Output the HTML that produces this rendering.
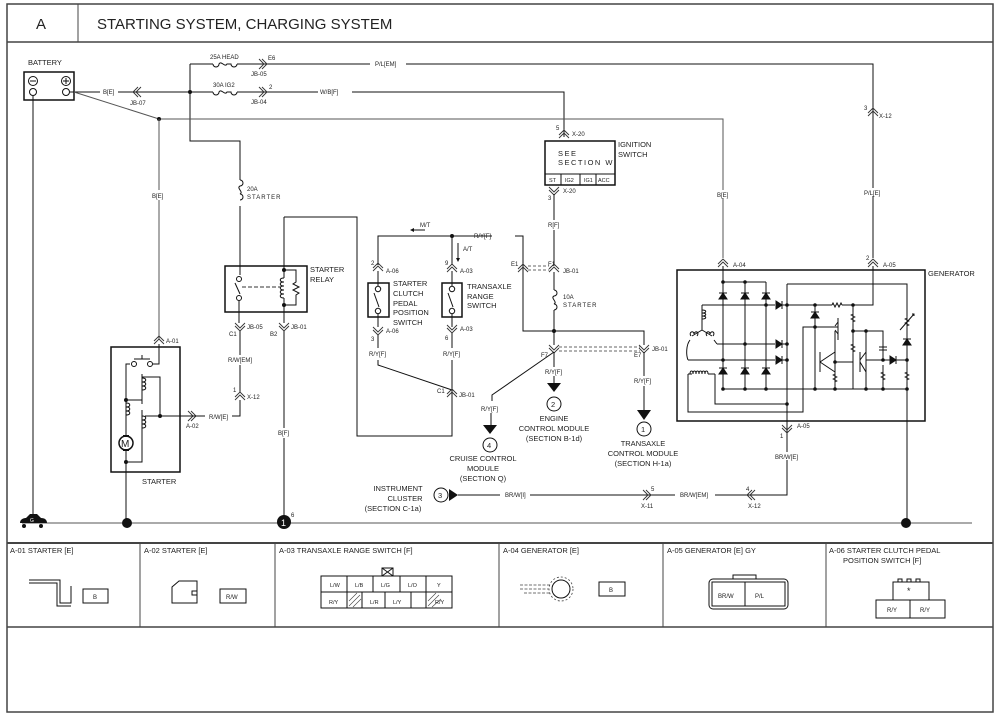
<!DOCTYPE html>
<html><head><meta charset="utf-8"><style>
html,body{margin:0;padding:0;background:#fff;}
svg{display:block;font-family:"Liberation Sans",sans-serif;}
text{fill:#222;}
.s{font-size:6px;}
.m{font-size:7.5px;}
.w{stroke:#555;stroke-width:1;fill:none;}
.k{stroke:#111;stroke-width:1;fill:none;}
.b{stroke:#111;stroke-width:2;fill:none;}
</style></head><body>
<svg width="1000" height="717" viewBox="0 0 1000 717" xmlns="http://www.w3.org/2000/svg">
<defs>
<g id="cu"><path d="M-5,4 L0,-1 L5,4 M-5,1 L0,-4 L5,1" stroke="#333" stroke-width="0.9" fill="none"/></g>
<g id="cd"><path d="M-5,-4 L0,1 L5,-4 M-5,-1 L0,4 L5,-1" stroke="#333" stroke-width="0.9" fill="none"/></g>
<g id="cr"><path d="M-4,-5 L1,0 L-4,5 M-1,-5 L4,0 L-1,5" stroke="#333" stroke-width="0.9" fill="none"/></g>
<g id="cl"><path d="M4,-5 L-1,0 L4,5 M1,-5 L-4,0 L1,5" stroke="#333" stroke-width="0.9" fill="none"/></g>
<g id="du"><path d="M-4,3 L4,3 L0,-3 Z M-4,-3 L4,-3" stroke="#111" fill="#111" stroke-width="1"/></g>
<g id="dr"><path d="M-3,-4 L-3,4 L3,0 Z M3,-4 L3,4" stroke="#111" fill="#111" stroke-width="1"/></g>
<g id="rv"><path d="M0,-6 L0,-4 L-2,-3 L2,-1 L-2,1 L2,3 L0,4 L0,6" stroke="#222" fill="none" stroke-width="0.8"/></g>
</defs>

<!-- frame -->
<rect x="7" y="4" width="986" height="708" fill="none" stroke="#444" stroke-width="1.5"/>
<line x1="7" y1="42" x2="993" y2="42" stroke="#444" stroke-width="1.5"/>
<line x1="78" y1="4" x2="78" y2="42" stroke="#444" stroke-width="1"/>
<text x="36" y="29" style="font-size:15px">A</text>
<text x="97" y="29" style="font-size:15px">STARTING SYSTEM, CHARGING SYSTEM</text>

<!-- battery -->
<text x="28" y="65" class="m">BATTERY</text>
<rect x="24" y="72" width="50" height="28" fill="none" stroke="#111" stroke-width="1.5"/>
<circle cx="33" cy="81" r="4.5" class="k"/><line x1="30" y1="81" x2="36" y2="81" class="k"/>
<circle cx="66" cy="81" r="4.5" class="k"/><line x1="63" y1="81" x2="69" y2="81" class="k"/><line x1="66" y1="78" x2="66" y2="84" class="k"/>
<circle cx="33" cy="92" r="3.5" class="k"/><circle cx="66" cy="92" r="3.5" class="k"/>
<line x1="33" y1="96" x2="33" y2="523" class="k"/>

<!-- battery + to junction -->
<path d="M70,92 H100 M118,92 H190" class="k"/>
<text x="103" y="94" class="s">B[E]</text>
<use href="#cl" x="137" y="92"/>
<text x="130" y="105" class="s">JB-07</text>
<circle cx="190" cy="92" r="2" fill="#111"/>
<path d="M190,64 V141 H240 V180" class="k"/>
<!-- 25A HEAD line -->
<path d="M190,64 H213 M237,64 H370 M406,64 H873 V258" class="k"/>
<path d="M213,64 a3,3 0 1 0 6,0 c2,-4 6,4 8,0 c2,0 4,0 4,0 a3,3 0 1 0 6,0" class="k"/>
<text x="210" y="59" class="s">25A HEAD</text>
<use href="#cr" x="263" y="64"/><text x="268" y="60" class="s">E6</text><text x="251" y="76" class="s">JB-05</text>
<text x="375" y="66" class="s">P/L[EM]</text>
<!-- 30A IG2 -->
<path d="M190,92 H213 M237,92 H318 M352,92 H564 V137" class="k"/>
<path d="M213,92 a3,3 0 1 0 6,0 c2,-4 6,4 8,0 c2,0 4,0 4,0 a3,3 0 1 0 6,0" class="k"/>
<text x="213" y="87" class="s">30A IG2</text>
<use href="#cr" x="263" y="92"/><text x="269" y="89" class="s">2</text><text x="251" y="104" class="s">JB-04</text>
<text x="320" y="94" class="s">W/B[F]</text>
<!-- diagonal -->
<path d="M74,92 L159,119 H723 V258" class="w"/>
<circle cx="159" cy="119" r="2" fill="#111"/>
<path d="M159,119 V190 M159,200 V340" class="w"/>
<text x="152" y="198" class="s">B[E]</text>
<use href="#cu" x="159" y="340"/><text x="166" y="343" class="s">A-01</text>

<!-- X-12 P/L -->
<use href="#cu" x="873" y="112"/><text x="864" y="110" class="s">3</text><text x="879" y="118" class="s">X-12</text>
<rect x="862" y="188" width="22" height="8" fill="#fff"/><text x="864" y="195" class="s">P/L[E]</text>
<rect x="712" y="190" width="22" height="8" fill="#fff"/><text x="717" y="197" class="s">B[E]</text>
<use href="#cu" x="723" y="263"/><text x="733" y="267" class="s">A-04</text>
<use href="#cu" x="873" y="263"/><text x="866" y="260" class="s">2</text><text x="883" y="267" class="s">A-05</text>

<!-- ignition switch -->
<use href="#cu" x="564" y="134"/><text x="556" y="130" class="s">5</text><text x="572" y="136" class="s">X-20</text>
<rect x="545" y="141" width="70" height="44" fill="none" stroke="#111" stroke-width="1.5"/>
<line x1="545" y1="174" x2="615" y2="174" class="k"/>
<line x1="561" y1="174" x2="561" y2="185" class="k"/><line x1="580" y1="174" x2="580" y2="185" class="k"/><line x1="596" y1="174" x2="596" y2="185" class="k"/>
<text x="558" y="156" class="m" style="letter-spacing:1.5px">SEE</text>
<text x="558" y="165" class="m" style="letter-spacing:1.5px">SECTION W</text>
<text x="549" y="182" style="font-size:5.5px">ST</text><text x="565" y="182" style="font-size:5.5px">IG2</text><text x="584" y="182" style="font-size:5.5px">IG1</text><text x="598" y="182" style="font-size:5.5px">ACC</text>
<text x="618" y="147" class="m">IGNITION</text><text x="618" y="157" class="m">SWITCH</text>
<use href="#cd" x="554" y="191"/><text x="548" y="200" class="s">3</text><text x="563" y="193" class="s">X-20</text>
<path d="M554,194 V220 M554,230 V264" class="k"/>
<text x="548" y="227" class="s">R[F]</text>
<use href="#cu" x="554" y="268"/><text x="548" y="266" class="s">F1</text><text x="563" y="273" class="s">JB-01</text>
<path d="M554,272 V290 M554,310 V345" class="k"/>
<path d="M554,290 a3,3 0 1 1 0,6 c-4,2 4,6 0,8 a3,3 0 1 1 0,6" class="k"/>
<text x="563" y="299" class="s">10A</text><text x="563" y="307" class="s" style="letter-spacing:1px">STARTER</text>
<circle cx="554" cy="331" r="2" fill="#111"/>
<path d="M378,265 V236 H492 M515,236 H523 V331 H644 V345" class="k"/>
<text x="474" y="238" class="s">R/Y[F]</text>
<circle cx="452" cy="236" r="2" fill="#111"/>
<use href="#cu" x="523" y="268"/><text x="511" y="266" class="s">E1</text>
<path d="M528,266 H549 M528,270 H549" stroke="#666" stroke-width="0.9" stroke-dasharray="3,2"/>
<path d="M425,230 H413" class="k"/><path d="M410,230 L414,228 L414,232 Z" fill="#111"/><text x="420" y="227" class="s">M/T</text>
<path d="M458,243 V258" class="k"/><path d="M458,262 L456,258 L460,258 Z" fill="#111"/><text x="463" y="251" class="s">A/T</text>

<!-- clutch switch -->
<use href="#cu" x="378" y="267"/><text x="371" y="265" class="s">2</text><text x="386" y="273" class="s">A-06</text>
<rect x="368" y="283" width="21" height="34" fill="none" stroke="#111" stroke-width="1.5"/>
<path d="M378,271 V286 M378,314 V327" class="k"/>
<circle cx="378" cy="289" r="2.7" class="k"/><circle cx="378" cy="311" r="2.7" class="k"/>
<line x1="374" y1="293" x2="379" y2="307" class="k"/>
<text x="393" y="286" class="m">STARTER</text><text x="393" y="296" class="m">CLUTCH</text><text x="393" y="306" class="m">PEDAL</text><text x="393" y="315" class="m">POSITION</text><text x="393" y="325" class="m">SWITCH</text>
<use href="#cd" x="378" y="331"/><text x="371" y="341" class="s">3</text><text x="386" y="333" class="s">A-06</text>
<path d="M378,335 V348 M378,360 V365 L452,390" class="k"/>
<text x="369" y="356" class="s">R/Y[F]</text>
<!-- transaxle switch -->
<path d="M452,236 V265" class="k"/>
<use href="#cu" x="452" y="268"/><text x="445" y="265" class="s">9</text><text x="460" y="273" class="s">A-03</text>
<rect x="442" y="283" width="20" height="34" fill="none" stroke="#111" stroke-width="1.5"/>
<path d="M452,271 V286 M452,314 V327" class="k"/>
<circle cx="452" cy="289" r="2.7" class="k"/><circle cx="452" cy="311" r="2.7" class="k"/>
<line x1="448" y1="293" x2="453" y2="307" class="k"/>
<text x="467" y="289" class="m">TRANSAXLE</text><text x="467" y="299" class="m">RANGE</text><text x="467" y="308" class="m">SWITCH</text>
<use href="#cd" x="452" y="329"/><text x="445" y="340" class="s">6</text><text x="460" y="331" class="s">A-03</text>
<path d="M452,333 V348 M452,360 V436 H357 V217 H284" class="k"/>
<text x="443" y="356" class="s">R/Y[F]</text>
<use href="#cu" x="452" y="393"/><text x="437" y="393" class="s">C1</text><text x="459" y="397" class="s">JB-01</text>

<!-- F7/E7 -->
<use href="#cd" x="554" y="349"/><text x="541" y="357" class="s">F7</text>
<path d="M559,347 H640 M559,351 H640" stroke="#666" stroke-width="0.9" stroke-dasharray="3,2"/>
<use href="#cd" x="644" y="349"/><text x="634" y="357" class="s">E7</text><text x="652" y="351" class="s">JB-01</text>
<path d="M554,352 V367 M554,376 V383" class="k"/>
<text x="545" y="374" class="s">R/Y[F]</text>
<path d="M547,383 L561,383 L554,392 Z" fill="#111"/>
<circle cx="554" cy="404" r="7" class="k"/><text x="551" y="407" class="m">2</text>
<text x="554" y="421" class="m" text-anchor="middle">ENGINE</text>
<text x="554" y="431" class="m" text-anchor="middle">CONTROL MODULE</text>
<text x="554" y="441" class="m" text-anchor="middle">(SECTION B-1d)</text>
<path d="M644,352 V376 M644,386 V410" class="k"/>
<text x="634" y="383" class="s">R/Y[F]</text>
<path d="M637,410 L651,410 L644,420 Z" fill="#111"/>
<circle cx="644" cy="429" r="7" class="k"/><text x="641" y="432" class="m">1</text>
<text x="643" y="446" class="m" text-anchor="middle">TRANSAXLE</text>
<text x="643" y="456" class="m" text-anchor="middle">CONTROL MODULE</text>
<text x="643" y="466" class="m" text-anchor="middle">(SECTION H-1a)</text>
<path d="M554,352 L492,395 V401 M491,413 V425" class="k"/>
<text x="481" y="411" class="s">R/Y[F]</text>
<path d="M483,425 L497,425 L490,434 Z" fill="#111"/>
<circle cx="490" cy="445" r="7" class="k"/><text x="487" y="448" class="m">4</text>
<text x="483" y="461" class="m" text-anchor="middle">CRUISE CONTROL</text>
<text x="483" y="471" class="m" text-anchor="middle">MODULE</text>
<text x="483" y="481" class="m" text-anchor="middle">(SECTION Q)</text>

<!-- 20A starter fuse & relay -->
<path d="M240,180 a3,3 0 1 1 0,6 c-4,2 4,6 0,8 a3,3 0 1 1 0,6 M240,206 V275" class="k"/>
<text x="247" y="191" class="s">20A</text><text x="247" y="199" class="s" style="letter-spacing:1px">STARTER</text>
<rect x="225" y="266" width="82" height="46" fill="none" stroke="#111" stroke-width="1.5"/>
<text x="310" y="272" class="m">STARTER</text><text x="310" y="282" class="m">RELAY</text>
<circle cx="239" cy="279" r="2.5" class="k"/><circle cx="239" cy="298" r="2.5" class="k"/>
<line x1="235" y1="283" x2="240" y2="294" class="k"/>
<line x1="242" y1="287" x2="280" y2="287" stroke="#333" stroke-dasharray="4,2"/>
<path d="M284,217 V278 M284,298 V323" class="k"/>
<circle cx="284" cy="270" r="2" fill="#111"/><circle cx="284" cy="305" r="2" fill="#111"/>
<path d="M284,278 c-5,0 -5,4 0,4 c-5,0 -5,4 0,4 c-5,0 -5,4 0,4 c-5,0 -5,4 0,4 c-5,0 -5,4 0,4" class="k"/>
<path d="M284,270 H296 V282 l-3,2 l6,3 l-6,3 l6,3 l-3,2 V305 H284" class="k"/>
<path d="M239,301 V323" class="k"/>
<use href="#cd" x="240" y="327"/><text x="229" y="336" class="s">C1</text><text x="247" y="329" class="s">JB-05</text>
<use href="#cd" x="284" y="327"/><text x="270" y="336" class="s">B2</text><text x="291" y="329" class="s">JB-01</text>
<path d="M240,331 V355 M240,365 V392 M240,400 V416 H232" class="k"/>
<text x="228" y="362" class="s">R/W[EM]</text>
<use href="#cu" x="240" y="396"/><text x="233" y="392" class="s">1</text><text x="247" y="399" class="s">X-12</text>
<text x="209" y="419" class="s">R/W[E]</text>
<path d="M284,331 V428 M284,438 V516" class="k"/>
<text x="278" y="435" class="s">B[F]</text>

<!-- starter -->
<rect x="111" y="347" width="69" height="125" fill="none" stroke="#111" stroke-width="1.5"/>
<text x="142" y="484" class="m">STARTER</text>
<use href="#cr" x="192" y="416"/><text x="186" y="428" class="s">A-02</text>
<path d="M145,416 H205" class="k"/><circle cx="160" cy="416" r="2" fill="#111"/>
<path d="M159,344 V364 H153 M130,364 H126 V443 M126,451 V523" class="k"/>
<circle cx="134" cy="364" r="2.5" class="k"/><circle cx="150" cy="364" r="2.5" class="k"/><path d="M134,359 H150 M142,359 V355" class="k"/>
<circle cx="126" cy="400" r="2" fill="#111"/><circle cx="126" cy="462" r="2" fill="#111"/>
<path d="M126,400 H142 M126,462 H142 V429" class="k"/>
<path d="M142,374 V404 M142,410 V429 M142,377 H160 V416" class="k"/>
<path d="M142,378 c5,0 5,4 0,4 c5,0 5,4 0,4 c5,0 5,4 0,4 M142,416 c5,0 5,4 0,4 c5,0 5,4 0,4 c5,0 5,4 0,4 M126,403 c5,0 5,4 0,4 c5,0 5,4 0,4 c5,0 5,4 0,4" class="k"/>
<circle cx="126" cy="443" r="7" fill="#fff" stroke="#111" stroke-width="1.5"/><text x="121" y="447" style="font-size:10px">M</text>
<rect x="123" y="435" width="6" height="2" fill="#111"/><rect x="123" y="449" width="6" height="2" fill="#111"/>

<!-- ground line -->
<line x1="22" y1="523" x2="972" y2="523" class="w"/>
<path d="M20,523 c0,-4 4,-5 6,-5 l4,-4 h7 l4,4 c4,0 6,2 6,5 z" fill="#111"/>
<circle cx="24" cy="526" r="2" fill="#111"/><circle cx="41" cy="526" r="2" fill="#111"/>
<text x="30" y="522" style="font-size:5px;fill:#fff">G</text>
<circle cx="127" cy="523" r="5" fill="#111"/>
<circle cx="284" cy="522" r="7" fill="#111"/><text x="281" y="526" style="font-size:9px;fill:#fff">1</text><text x="291" y="517" class="s">6</text>
<circle cx="906" cy="523" r="5" fill="#111"/>

<!-- instrument cluster -->
<text x="398" y="491" class="m" text-anchor="middle">INSTRUMENT</text>
<text x="405" y="501" class="m" text-anchor="middle">CLUSTER</text>
<text x="393" y="511" class="m" text-anchor="middle">(SECTION C-1a)</text>
<circle cx="441" cy="495" r="7" class="k"/><text x="438" y="498" class="m">3</text>
<path d="M449,489 L458,495 L449,501 Z" fill="#111"/>
<path d="M458,495 H500 M530,495 H675 M715,495 H787 V413" class="k"/>
<text x="505" y="497" class="s">BR/W[I]</text>
<text x="680" y="497" class="s">BR/W[EM]</text>
<use href="#cr" x="647" y="495"/><text x="651" y="491" class="s">5</text><text x="641" y="508" class="s">X-11</text>
<use href="#cl" x="751" y="495"/><text x="746" y="491" class="s">4</text><text x="748" y="508" class="s">X-12</text>
<rect x="774" y="452" width="26" height="8" fill="#fff"/><text x="775" y="459" class="s">BR/W[E]</text>
<use href="#cd" x="787" y="429"/><text x="780" y="438" class="s">1</text><text x="797" y="428" class="s">A-05</text>

<!-- generator -->
<rect x="677" y="270" width="248" height="151" fill="none" stroke="#111" stroke-width="1.5"/>
<text x="928" y="276" class="m">GENERATOR</text>
<g class="k">
<path d="M723,266 V389 M745,282 V389 M766,282 V389 M723,282 H766"/>
<path d="M702,305 H775 M782,305 H832 M842,305 H873 V266"/>
<path d="M832,305 l1,-2 l2,4 l2,-4 l2,4 l2,-4 l1,2"/>
<path d="M717,344 H775 M782,344 H787 M688,360 H775 M782,360 H787"/>
<path d="M787,284 H907 V389 M787,284 V418"/>
<path d="M723,389 H907"/>
<path d="M702,305 V330 L692,336 M702,330 L712,336 M690,340 C686,345 686,355 688,360 M714,340 L717,344"/>
<path d="M702,310 c5,0 5,3 0,3 c5,0 5,3 0,3 c5,0 5,3 0,3"/>
<path d="M691,336 c-3,-4 3,-6 3,-2 c1,-4 6,-2 3,2 M707,336 c-3,-4 3,-6 3,-2 c1,-4 6,-2 3,2"/>
<path d="M688,374 V412 H803 V327 H838 M715,374 V404 H787"/>
<path d="M690,374 c0,-4 3,-4 3,0 c0,-4 3,-4 3,0 c0,-4 3,-4 3,0 c0,-4 3,-4 3,0 c0,-4 3,-4 3,0 c0,-4 3,-4 3,0 M688,374 H692 M708,374 H715"/>
<path d="M815,305 V389 M853,305 V389 M835,331 V389 M853,331 H883 V360 M866,331 V389 M883,365 V389"/>
<path d="M820,362 L835,352 M820,362 L835,372 M820,352 V372 M835,362 H853"/>
<path d="M860,360 L866,352 M860,362 L866,372 M860,352 V372 M866,360 H907"/>
<path d="M835,326 L838,322 M835,330 L838,334 M838,318 V340"/>
<path d="M879,347 H887 M879,350 H887"/>
</g>
<use href="#du" x="723" y="296"/><use href="#du" x="745" y="296"/><use href="#du" x="766" y="296"/>
<use href="#du" x="723" y="371"/><use href="#du" x="745" y="371"/><use href="#du" x="766" y="371"/>
<use href="#dr" x="779" y="305"/><use href="#dr" x="779" y="344"/><use href="#dr" x="779" y="360"/>
<use href="#du" x="815" y="315"/><use href="#du" x="907" y="342"/><use href="#dr" x="893" y="360"/>
<use href="#rv" x="853" y="318"/><use href="#rv" x="853" y="348"/><use href="#rv" x="835" y="378"/><use href="#rv" x="883" y="376"/><use href="#rv" x="907" y="376"/><use href="#rv" x="907" y="322"/>
<path d="M900,330 L914,314 M912,314 L914,314 L914,316" stroke="#111" fill="none"/>
<g fill="#111">
<circle cx="723" cy="282" r="1.8"/><circle cx="745" cy="282" r="1.8"/><circle cx="766" cy="305" r="1.8"/><circle cx="787" cy="305" r="1.8"/>
<circle cx="745" cy="344" r="1.8"/><circle cx="787" cy="344" r="1.8"/><circle cx="723" cy="360" r="1.8"/><circle cx="787" cy="360" r="1.8"/>
<circle cx="723" cy="389" r="1.8"/><circle cx="745" cy="389" r="1.8"/><circle cx="766" cy="389" r="1.8"/><circle cx="815" cy="389" r="1.8"/>
<circle cx="835" cy="389" r="1.8"/><circle cx="866" cy="389" r="1.8"/><circle cx="883" cy="389" r="1.8"/><circle cx="907" cy="389" r="1.8"/>
<circle cx="815" cy="305" r="1.8"/><circle cx="853" cy="305" r="1.8"/><circle cx="815" cy="327" r="1.8"/><circle cx="853" cy="331" r="1.8"/>
<circle cx="866" cy="331" r="1.8"/><circle cx="835" cy="362" r="1.8"/><circle cx="883" cy="360" r="1.8"/><circle cx="907" cy="360" r="1.8"/>
<circle cx="787" cy="404" r="1.8"/>
</g>
<path d="M907,389 V523" class="k"/>

<!-- connector table -->
<line x1="7" y1="543" x2="993" y2="543" stroke="#444" stroke-width="2"/>
<line x1="7" y1="627" x2="993" y2="627" stroke="#444" stroke-width="1.5"/>
<g stroke="#444" stroke-width="1"><line x1="140" y1="543" x2="140" y2="627"/><line x1="275" y1="543" x2="275" y2="627"/><line x1="499" y1="543" x2="499" y2="627"/><line x1="663" y1="543" x2="663" y2="627"/><line x1="826" y1="543" x2="826" y2="627"/></g>
<g class="m">
<text x="10" y="553">A-01 STARTER [E]</text>
<text x="144" y="553">A-02 STARTER [E]</text>
<text x="279" y="553">A-03 TRANSAXLE RANGE SWITCH [F]</text>
<text x="503" y="553">A-04 GENERATOR [E]</text>
<text x="667" y="553">A-05 GENERATOR [E] GY</text>
<text x="829" y="553">A-06 STARTER CLUTCH PEDAL</text>
<text x="843" y="563">POSITION SWITCH [F]</text>
</g>
<path d="M29,580 H60 V603 H71 V586" class="k"/><path d="M29,583 H57 V606 H71" class="k"/>
<rect x="83" y="589" width="25" height="14" class="k"/><text x="93" y="599" class="s">B</text>
<path d="M172,603 V587 l7,-6 H197 V603 Z M197,591 H192 V595 H197" class="k"/>
<rect x="220" y="589" width="26" height="14" class="k"/><text x="226" y="599" class="s">R/W</text>
<rect x="382" y="568" width="11" height="8" class="k"/><path d="M382,568 L393,576 M393,568 L382,576" class="k"/>
<rect x="321" y="576" width="131" height="32" class="k"/>
<g class="k"><line x1="321" y1="592" x2="452" y2="592"/><line x1="347" y1="576" x2="347" y2="592"/><line x1="373" y1="576" x2="373" y2="592"/><line x1="400" y1="576" x2="400" y2="592"/><line x1="426" y1="576" x2="426" y2="592"/>
<line x1="347" y1="592" x2="347" y2="608"/><line x1="362" y1="592" x2="362" y2="608"/><line x1="385" y1="592" x2="385" y2="608"/><line x1="411" y1="592" x2="411" y2="608"/><line x1="426" y1="592" x2="426" y2="608"/></g>
<g stroke="#444" stroke-width="0.6"><path d="M349,606 L360,595 M349,601 L357,593 M353,607 L361,599 M428,606 L439,595 M428,601 L436,593 M432,607 L441,599"/></g>
<g style="font-size:5.5px"><text x="330" y="587">L/W</text><text x="355" y="587">L/B</text><text x="381" y="587">L/G</text><text x="408" y="587">L/O</text><text x="437" y="587">Y</text>
<text x="329" y="604">R/Y</text><text x="370" y="604">L/R</text><text x="393" y="604">L/Y</text><text x="435" y="604">R/Y</text></g>
<path d="M520,585 H551 M520,589 H549 M524,593 H551" stroke="#444" stroke-dasharray="3,1.5" stroke-width="0.8"/>
<circle cx="561" cy="589" r="9" class="k"/><circle cx="561" cy="589" r="12" fill="none" stroke="#444" stroke-dasharray="2,2" stroke-width="0.8"/>
<rect x="599" y="582" width="26" height="14" class="k"/><text x="609" y="592" class="s">B</text>
<rect x="709" y="579" width="79" height="30" rx="4" class="k"/><rect x="712" y="582" width="73" height="24" class="k"/>
<line x1="745" y1="582" x2="745" y2="606" class="k"/><rect x="733" y="575" width="23" height="4" class="k"/>
<text x="718" y="598" class="s">BR/W</text><text x="755" y="598" class="s">P/L</text>
<rect x="893" y="582" width="36" height="18" class="k"/><text x="907" y="594" style="font-size:9px">*</text>
<rect x="876" y="600" width="69" height="18" class="k"/><line x1="910" y1="600" x2="910" y2="618" class="k"/>
<path d="M898,582 v-3 h4 v3 M907,582 v-3 h4 v3 M916,582 v-3 h4 v3" class="k"/>
<text x="887" y="612" class="s">R/Y</text><text x="920" y="612" class="s">R/Y</text>
</svg>
</body></html>
